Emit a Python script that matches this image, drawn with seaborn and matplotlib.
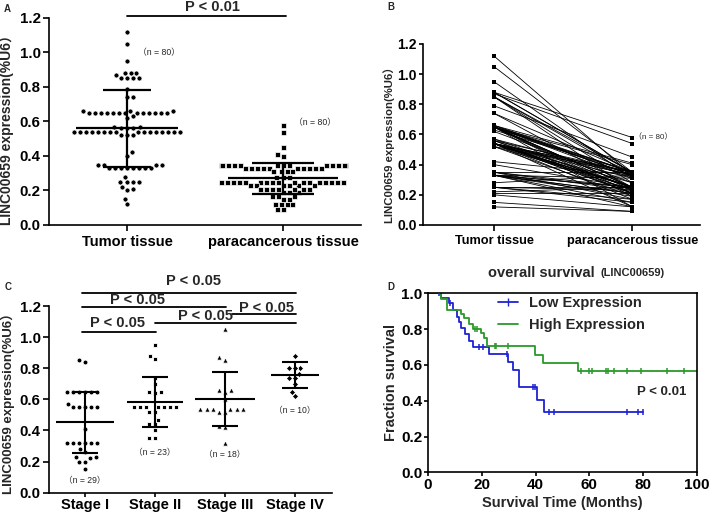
import numpy as np
import pandas as pd
import matplotlib
matplotlib.use("Agg")
import matplotlib.pyplot as plt
import seaborn as sns
from matplotlib.lines import Line2D

# ---------------- data ----------------
groups_A = ["Tumor tissue", "paracancerous tissue"]
tumor = [1.12, 1.05, 0.95, 0.88, 0.88, 0.88, 0.87, 0.85, 0.85, 0.85, 0.85, 0.79, 0.74, 0.74,
         0.66, 0.66, 0.66,
         0.65, 0.65, 0.65, 0.65, 0.65, 0.65, 0.65, 0.65, 0.65, 0.65, 0.65, 0.65, 0.65,
         0.63, 0.62, 0.57, 0.57, 0.56, 0.56, 0.56,
         0.54, 0.54, 0.54, 0.54, 0.54, 0.54, 0.54, 0.54, 0.54, 0.54, 0.54, 0.54, 0.54, 0.54, 0.54, 0.54,
         0.52, 0.52, 0.52, 0.42, 0.40,
         0.35, 0.35, 0.35, 0.35,
         0.33, 0.33, 0.33, 0.33, 0.33, 0.33, 0.33, 0.33,
         0.28, 0.25, 0.25, 0.25, 0.25, 0.22, 0.21, 0.20, 0.15, 0.12]
para = [0.33, 0.35, 0.31, 0.58, 0.35, 0.35, 0.54, 0.35, 0.33, 0.28, 0.23, 0.45, 0.35, 0.25,
        0.41, 0.35, 0.33,
        0.40, 0.35, 0.35, 0.33, 0.33, 0.31, 0.25, 0.25, 0.25, 0.23, 0.21, 0.19, 0.12,
        0.35, 0.28, 0.33, 0.25, 0.35, 0.25, 0.21,
        0.35, 0.35, 0.33, 0.33, 0.31, 0.28, 0.25, 0.25, 0.25, 0.25, 0.23, 0.23, 0.21, 0.21, 0.17, 0.12,
        0.35, 0.25, 0.19, 0.33, 0.25,
        0.35, 0.25, 0.23, 0.17,
        0.31, 0.25, 0.25, 0.21, 0.21, 0.19, 0.15, 0.12,
        0.33, 0.25, 0.23, 0.17, 0.15, 0.25, 0.21, 0.12, 0.09, 0.09]
A_mean = [0.56, 0.27]
A_sd_hi = [0.78, 0.36]
A_sd_lo = [0.335, 0.18]
A_n = ["（n = 80）", "（n = 80）"]

stages = ["Stage I", "Stage II", "Stage III", "Stage IV"]
stage1 = [0.85, 0.84, 0.65, 0.65, 0.65, 0.65, 0.65, 0.65, 0.57, 0.55, 0.55, 0.55, 0.55, 0.55,
          0.41, 0.32, 0.32, 0.32, 0.32, 0.32, 0.32, 0.28, 0.26, 0.23, 0.23, 0.22, 0.20, 0.20, 0.15]
stage2 = [0.95, 0.88, 0.86, 0.74, 0.70, 0.65, 0.65, 0.64, 0.55, 0.55, 0.55, 0.55, 0.55, 0.55, 0.55,
          0.52, 0.52, 0.47, 0.44, 0.44, 0.40, 0.35, 0.35]
stage3 = [1.05, 0.87, 0.85, 0.66, 0.66, 0.65, 0.60, 0.54, 0.54, 0.54, 0.54, 0.54, 0.54,
          0.52, 0.52, 0.43, 0.42, 0.32]
stage4 = [0.88, 0.80, 0.80, 0.80, 0.76, 0.74, 0.74, 0.70, 0.65, 0.62]
C_mean = [0.452, 0.58, 0.60, 0.757]
C_sd_hi = [0.649, 0.741, 0.778, 0.84]
C_sd_lo = [0.257, 0.424, 0.426, 0.67]
C_n = ["（n = 29）", "（n = 23）", "（n = 18）", "（n = 10）"]
C_n_y = [0.077, 0.257, 0.242, 0.53]
# significance brackets: (from stage idx, to stage idx, height)
C_pairs = [(0, 3, 1.285), (0, 2, 1.193), (2, 3, 1.148), (1, 3, 1.09), (0, 1, 1.033)]

low_t = [0, 5, 7.7, 9.3, 10.9, 11.5, 12.4, 13.9, 15.1, 16.7, 22.7, 29.7, 31.6, 33.7, 40.7, 43.0, 80]
low_s = [1.0, 0.972, 0.944, 0.907, 0.87, 0.84, 0.808, 0.77, 0.733, 0.70, 0.659, 0.618, 0.57, 0.475,
         0.405, 0.335, 0.335]
low_cens = [4, 8, 19, 20.5, 29.4, 38.9, 39.9, 44.9, 46.7, 74, 78, 80]
high_t = [0, 5, 7, 12.4, 13.2, 15.1, 16.7, 19.6, 21.0, 22.1, 39.7, 42.9, 55.9, 100]
high_s = [1.0, 0.97, 0.907, 0.885, 0.86, 0.83, 0.80, 0.78, 0.75, 0.705, 0.655, 0.608, 0.567, 0.567]
high_cens = [17.4, 18.4, 24.8, 25.4, 29.8, 57, 60, 61, 66, 67, 69, 74, 79, 89, 95]

# ---------------- style ----------------
sns.set_theme(style="ticks")
plt.rcParams["font.family"] = ["Liberation Sans", "Noto Sans CJK SC", "DejaVu Sans"]
plt.rcParams["font.weight"] = "bold"
plt.rcParams["axes.labelweight"] = "bold"
plt.rcParams["axes.linewidth"] = 1.2
plt.rcParams["xtick.major.width"] = 1.2
plt.rcParams["ytick.major.width"] = 1.2
plt.rcParams["xtick.color"] = "black"
plt.rcParams["ytick.color"] = "black"
plt.rcParams["axes.edgecolor"] = "black"

W, H = 709, 519
fig = plt.figure(figsize=(W / 100, H / 100), dpi=100)


def rect(l, t, r, b):
    return [l / W, 1 - b / H, (r - l) / W, (b - t) / H]


NFONT = ["Liberation Sans", "Noto Sans CJK SC"]
YLAB = "LINC00659 expression(%U6）"
yt = np.arange(0, 1.21, 0.2)

# ---------------- panel A ----------------
axA = fig.add_axes(rect(49, 17.7, 361, 225))
dfA = pd.DataFrame({"g": [groups_A[0]] * len(tumor) + [groups_A[1]] * len(para),
                    "v": tumor + para})
sns.swarmplot(data=dfA[dfA.g == groups_A[0]], x="g", y="v", order=groups_A, marker="o",
              color="black", size=3.6, linewidth=0.5, edgecolor="white", ax=axA, zorder=2)
sns.swarmplot(data=dfA[dfA.g == groups_A[1]], x="g", y="v", order=groups_A, marker="s",
              color="black", size=3.6, linewidth=0.5, edgecolor="white", ax=axA, zorder=2)
mw = [0.33, 0.35]
cw = [0.155, 0.2]
for i in range(2):
    axA.hlines(A_mean[i], i - mw[i], i + mw[i], color="black", lw=1.6, zorder=5)
    axA.hlines([A_sd_hi[i], A_sd_lo[i]], i - cw[i], i + cw[i], color="black", lw=1.6, zorder=5)
    axA.vlines(i, A_sd_lo[i], A_sd_hi[i], color="black", lw=1.6, zorder=5)
axA.set_xlim(-0.5, 1.5)
axA.set_ylim(0, 1.2)
axA.set_yticks(yt)
axA.set_yticklabels([f"{v:.1f}" for v in yt])
axA.tick_params(axis="y", direction="out", length=4, labelsize=10.8, pad=2)
axA.tick_params(axis="x", direction="out", length=4, labelsize=10.5, pad=3)
axA.set_xlabel("")
axA.set_ylabel(YLAB, fontsize=10)
axA.yaxis.set_label_coords(-0.112, 0.473)
sns.despine(ax=axA)
axA.plot([0, 1.02], [1.212, 1.212], color="black", lw=1.3, clip_on=False)
axA.text(0.55, 1.262, "P < 0.01", ha="center", va="center", fontsize=10.5, fontweight="bold")
axA.text(0.205, 1.0, A_n[0], ha="center", va="center", fontsize=6.3, fontweight="normal", family=NFONT)
axA.text(1.205, 0.59, A_n[1], ha="center", va="center", fontsize=6.3, fontweight="normal", family=NFONT)
fig.text(7 / W, 1 - 9 / H, "A", fontsize=7, fontweight="bold", ha="center", va="center")

# ---------------- panel B ----------------
axB = fig.add_axes(rect(423, 44, 700, 225))
ids = list(range(len(tumor)))
dfB = pd.DataFrame({"id": ids + ids, "pos": [0] * len(tumor) + [1] * len(para), "v": tumor + para})
sns.lineplot(data=dfB, x="pos", y="v", units="id", estimator=None, color="black", lw=0.6,
             ax=axB, legend=False)
sns.scatterplot(data=dfB, x="pos", y="v", marker="s", color="black", s=9, linewidth=0, ax=axB,
                zorder=3)
axB.set_xlim(-0.514, 1.49)
axB.set_ylim(0, 1.2)
axB.set_xticks([0, 1])
axB.set_xticklabels(groups_A)
axB.set_yticks(yt)
axB.set_yticklabels([f"{v:.1f}" for v in yt])
axB.tick_params(axis="y", direction="out", length=3, labelsize=10, pad=1.5)
axB.tick_params(axis="x", direction="out", length=4, labelsize=9.2, pad=3)
axB.set_xlabel("")
axB.set_ylabel(YLAB, fontsize=8.2)
axB.yaxis.set_label_coords(-0.1, 0.46)
sns.despine(ax=axB)
axB.text(1.15, 0.584, "（n = 80）", ha="center", va="center", fontsize=5.8, fontweight="normal", family=NFONT)
fig.text(391 / W, 1 - 7 / H, "B", fontsize=7, fontweight="bold", ha="center", va="center")

# ---------------- panel C ----------------
axC = fig.add_axes(rect(49, 306, 332, 492.7))
stage_vals = [stage1, stage2, stage3, stage4]
markers = ["o", "s", "^", "D"]
sizes = [3.5, 3.4, 3.8, 3.2]
dfC = pd.DataFrame({"st": sum([[s] * len(v) for s, v in zip(stages, stage_vals)], []),
                    "v": sum(stage_vals, [])})
for s, m, sz in zip(stages, markers, sizes):
    sns.swarmplot(data=dfC[dfC.st == s], x="st", y="v", order=stages, marker=m, color="black",
                  size=sz, linewidth=0.6, edgecolor="white", ax=axC, zorder=2)
mwC = [0.41, 0.40, 0.43, 0.34]
for i in range(4):
    axC.hlines(C_mean[i], i - mwC[i], i + mwC[i], color="black", lw=1.5, zorder=5)
    axC.hlines([C_sd_hi[i], C_sd_lo[i]], i - 0.18, i + 0.18, color="black", lw=1.5, zorder=5)
    axC.vlines(i, C_sd_lo[i], C_sd_hi[i], color="black", lw=1.5, zorder=5)
    axC.text(i, C_n_y[i], C_n[i], ha="center", va="center", fontsize=6.2, fontweight="normal",
             family=NFONT)
axC.set_xlim(-0.515, 3.53)
axC.set_ylim(0, 1.2)
axC.set_yticks(yt)
axC.set_yticklabels([f"{v:.1f}" for v in yt])
axC.tick_params(axis="y", direction="out", length=4, labelsize=10.8, pad=2)
axC.tick_params(axis="x", direction="out", labelsize=10.5, pad=1, length=3)
axC.set_xlabel("")
axC.set_ylabel(YLAB, fontsize=9.5)
axC.yaxis.set_label_coords(-0.12, 0.497)
sns.despine(ax=axC)
pos_text = {(0, 3): (1.55, 1.36), (0, 2): (0.75, 1.24), (2, 3): (2.6, 1.19),
            (1, 3): (1.72, 1.135), (0, 1): (0.46, 1.09)}
for a, b, h in C_pairs:
    x0 = a - 0.05 if a == 0 else a
    if (a, b) == (2, 3):
        x0 = 2.1
    axC.plot([x0, b + 0.02], [h, h], color="black", lw=1.3, clip_on=False)
    tx, ty = pos_text[(a, b)]
    axC.text(tx, ty, "P < 0.05", ha="center", va="center", fontsize=10.5, fontweight="bold",
             zorder=6)
fig.text(8 / W, 1 - 287 / H, "C", fontsize=7, fontweight="bold", ha="center", va="center")

# ---------------- panel D ----------------
axD = fig.add_axes(rect(428, 293.3, 697, 472.3))
blue = "#1e22d2"
green = "#2a9a2a"
dfD = pd.DataFrame({"t": low_t + high_t, "s": low_s + high_s,
                    "grp": ["Low Expression"] * len(low_t) + ["High Expression"] * len(high_t)})
sns.lineplot(data=dfD, x="t", y="s", hue="grp", palette={"Low Expression": blue, "High Expression": green},
             drawstyle="steps-post", estimator=None, lw=1.3, ax=axD, legend=False)


def at(times, surv, c):
    idx = np.searchsorted(np.array(times), np.array(c), side="right") - 1
    return np.array(surv)[idx]


sns.scatterplot(x=low_cens, y=at(low_t, low_s, low_cens), marker="|", color=blue, s=22,
                linewidth=1.1, ax=axD, zorder=4)
sns.scatterplot(x=high_cens, y=at(high_t, high_s, high_cens), marker="|", color=green, s=22,
                linewidth=1.1, ax=axD, zorder=4)
axD.set_xlim(0, 100)
axD.set_ylim(0, 1.0)
axD.set_xticks(range(0, 101, 20))
axD.set_yticks(np.arange(0, 1.01, 0.2))
axD.set_yticklabels([f"{v:.1f}" for v in np.arange(0, 1.01, 0.2)])
axD.tick_params(axis="both", direction="out", length=3, labelsize=11, pad=1)
axD.set_xlabel("Survival Time (Months)", fontsize=10.5)
axD.set_ylabel("Fraction survival", fontsize=10.5)
axD.xaxis.set_label_coords(0.498, -0.13)
axD.yaxis.set_label_coords(-0.11, 0.50)
for sp in axD.spines.values():
    sp.set_visible(True)
    sp.set_linewidth(1.2)
handles = [Line2D([0], [0], color=blue, lw=1.3, marker="|", markersize=6),
           Line2D([0], [0], color=green, lw=1.3)]
axD.legend(handles, ["Low Expression", "High Expression"], loc="upper left",
           bbox_to_anchor=(0.262, 0.985), frameon=False, prop={"size": 10.5, "weight": "bold"},
           handlelength=1.35, handletextpad=0.75, labelspacing=0.55, borderpad=0, borderaxespad=0)
axD.text(86.9, 0.449, "P < 0.01", ha="center", va="center", fontsize=9.5, fontweight="bold")
axD.text(0.222, 1.113, "overall survival", transform=axD.transAxes, ha="left", va="center",
         fontsize=10.5, fontweight="bold")
axD.text(0.643, 1.113, "(LINC00659)", transform=axD.transAxes, ha="left", va="center",
         fontsize=8, fontweight="bold")
fig.text(391 / W, 1 - 287 / H, "D", fontsize=7, fontweight="bold", ha="center", va="center")

fig.savefig("out.png", dpi=100)
